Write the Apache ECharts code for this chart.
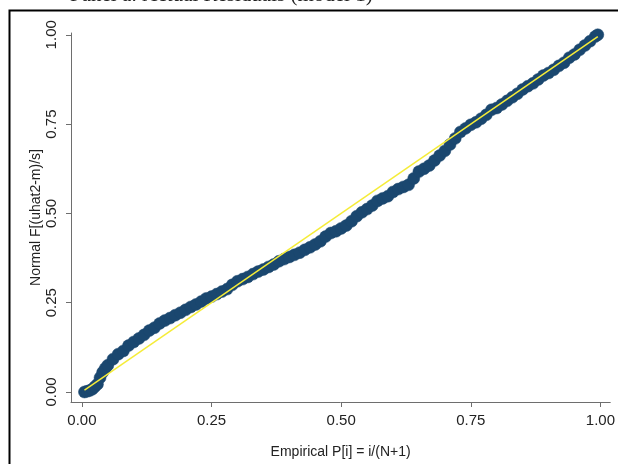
<!DOCTYPE html>
<html>
<head>
<meta charset="utf-8">
<script src="https://cdn.jsdelivr.net/npm/echarts@6/dist/echarts.min.js"></script>
<style>
html,body{margin:0;padding:0;background:#fff;}
#chart{width:618px;height:464px;}
</style>
</head>
<body>
<div id="chart"></div>
<script>
// Empirical P[i] values (x) and Normal F[(uhat2-m)/s] values (y)
const empiricalP = [0.005,0.01,0.015,0.02,0.025,0.03,0.035,0.04,0.045,0.05,0.06,0.07,0.08,0.09,0.10,0.11,0.12,0.13,0.14,0.15,0.16,0.17,0.18,0.19,0.20,0.21,0.22,0.23,0.24,0.25,0.26,0.27,0.28,0.29,0.30,0.31,0.32,0.33,0.34,0.35,0.36,0.37,0.38,0.39,0.40,0.41,0.42,0.43,0.44,0.45,0.46,0.47,0.48,0.49,0.50,0.51,0.52,0.53,0.54,0.55,0.56,0.57,0.58,0.59,0.60,0.61,0.62,0.63,0.64,0.65,0.66,0.67,0.68,0.69,0.70,0.71,0.72,0.73,0.74,0.75,0.76,0.77,0.78,0.79,0.80,0.81,0.82,0.83,0.84,0.85,0.86,0.87,0.88,0.89,0.90,0.91,0.92,0.93,0.94,0.95,0.96,0.97,0.98,0.99,0.995];
const normalF = [0.000,0.002,0.004,0.008,0.015,0.022,0.040,0.055,0.066,0.075,0.092,0.106,0.115,0.130,0.140,0.150,0.160,0.172,0.180,0.192,0.200,0.207,0.215,0.222,0.230,0.238,0.245,0.253,0.262,0.267,0.274,0.281,0.288,0.300,0.310,0.316,0.322,0.330,0.337,0.343,0.350,0.357,0.366,0.372,0.378,0.384,0.390,0.398,0.405,0.413,0.422,0.435,0.445,0.450,0.458,0.466,0.478,0.492,0.503,0.512,0.522,0.535,0.542,0.548,0.560,0.568,0.574,0.580,0.598,0.617,0.625,0.634,0.648,0.662,0.675,0.693,0.710,0.728,0.738,0.748,0.755,0.765,0.776,0.790,0.795,0.805,0.815,0.825,0.835,0.847,0.856,0.864,0.875,0.886,0.893,0.902,0.913,0.922,0.936,0.945,0.958,0.970,0.982,0.995,1.000];
// reference line y = x
const refLineX = [0.005, 0.995];
const refLineY = [0.005, 0.995];
const tickValues = [0, 0.25, 0.5, 0.75, 1];
const tickLabels = ['0.00','0.25','0.50','0.75','1.00'];

const scatterData = empiricalP.map((x, i) => [x, normalF[i]]);
const lineData = refLineX.map((x, i) => [x, refLineY[i]]);
const fmt = v => { const k = tickValues.findIndex(t => Math.abs(t - v) < 1e-9); return k >= 0 ? tickLabels[k] : ''; };

const chart = echarts.init(document.getElementById('chart'), null, {renderer: 'canvas'});
const axisCommon = {
  axisLine: {show: true, onZero: false, lineStyle: {color: '#6e6e6e', width: 1}},
  axisTick: {show: true, length: 5, lineStyle: {color: '#6e6e6e'}, customValues: tickValues},
  splitLine: {show: false},
  nameMoveOverlap: false,
  nameTextStyle: {fontFamily: 'Liberation Sans', fontSize: 14, color: '#222'}
};
chart.setOption({
  animation: false,
  backgroundColor: '#ffffff',
  grid: {left: 71, right: 5, top: 33, bottom: 60, containLabel: false},
  xAxis: Object.assign({}, axisCommon, {
    type: 'value', min: -0.021, max: 1.019,
    name: 'Empirical P[i] = i/(N+1)', nameLocation: 'middle', nameGap: 43,
    axisLabel: {customValues: tickValues, formatter: fmt, margin: 11, fontFamily: 'Liberation Sans', fontSize: 15, color: '#222'}
  }),
  yAxis: Object.assign({}, axisCommon, {
    type: 'value', min: -0.028, max: 1.005,
    name: 'Normal F[(uhat2-m)/s]', nameLocation: 'middle', nameGap: 28,
    axisLabel: {customValues: tickValues, formatter: fmt, rotate: 90, margin: 12, fontFamily: 'Liberation Sans', fontSize: 15, color: '#222'}
  }),
  series: [
    {type: 'scatter', data: scatterData, symbol: 'circle', symbolSize: 12,
     itemStyle: {color: '#1a476f', borderColor: '#1a476f', borderWidth: 0.5, opacity: 1}, z: 2},
    {type: 'line', data: lineData, showSymbol: false, symbol: 'none',
     lineStyle: {color: '#f5ec38', width: 1.5}, z: 3}
  ],
  graphic: [
    {type: 'rect', shape: {x: 9.5, y: 10.5, width: 800, height: 800}, style: {fill: 'none', stroke: '#000', lineWidth: 2}, z: 100, silent: true},
    {type: 'text', left: 70, top: -15, style: {text: 'Panel a: Actual Residuals (model 1)', font: '21px "Liberation Serif"', fill: '#222'}, z: 100}
  ]
});
</script>
</body>
</html>
